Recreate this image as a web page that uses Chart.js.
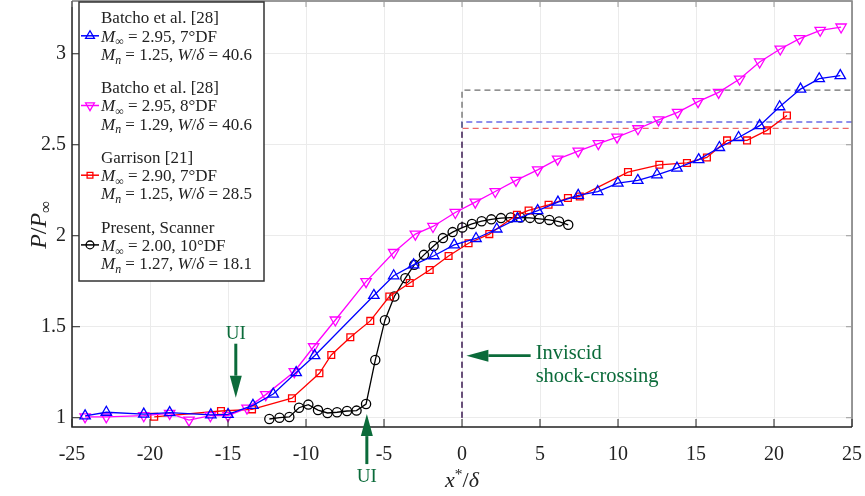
<!DOCTYPE html>
<html>
<head>
<meta charset="utf-8">
<script src="https://cdn.jsdelivr.net/npm/chart.js@4.4.1/dist/chart.umd.min.js"></script>
<style>
  html, body { margin: 0; padding: 0; background: #fff; }
  #wrap { width: 865px; height: 496px; }
</style>
</head>
<body>
<div id="wrap"><canvas id="chart" width="865" height="496"></canvas></div>
<script>
// Batcho et al. [28], M=2.95, 7 deg DF
const batcho7X = [-24.16, -22.8, -20.4, -18.74, -16.1, -15.0, -13.4, -12.1, -10.63, -9.45, -5.65, -4.38, -3.1, -1.8, -0.5, 0.9, 2.23, 3.55, 4.85, 6.15, 7.45, 8.7, 9.99, 11.27, 12.5, 13.78, 15.17, 16.5, 17.73, 19.08, 20.36, 21.7, 22.9, 24.25];
const batcho7Y = [1.01, 1.03, 1.02, 1.028, 1.016, 1.018, 1.068, 1.13, 1.248, 1.341, 1.672, 1.78, 1.84, 1.89, 1.95, 1.985, 2.037, 2.094, 2.138, 2.185, 2.222, 2.243, 2.289, 2.304, 2.335, 2.372, 2.418, 2.485, 2.54, 2.605, 2.709, 2.806, 2.863, 2.88];

// Batcho et al. [28], M=2.95, 8 deg DF
const batcho8X = [-24.16, -22.8, -20.4, -18.74, -17.5, -16.13, -15.0, -13.78, -12.58, -10.75, -9.51, -8.12, -6.15, -4.38, -2.99, -1.86, -0.43, 0.85, 2.13, 3.46, 4.85, 6.13, 7.45, 8.74, 9.94, 11.28, 12.6, 13.82, 15.13, 16.45, 17.8, 19.08, 20.4, 21.64, 22.96, 24.3];
const batcho8Y = [1.005, 1.005, 1.011, 1.024, 0.987, 1.011, 1.011, 1.053, 1.127, 1.253, 1.39, 1.537, 1.748, 1.908, 2.009, 2.051, 2.128, 2.185, 2.243, 2.304, 2.362, 2.421, 2.465, 2.506, 2.542, 2.588, 2.637, 2.678, 2.737, 2.788, 2.861, 2.955, 3.026, 3.083, 3.129, 3.147];

// Garrison [21], M=2.90, 7 deg DF
const garrisonX = [-19.73, -15.45, -13.46, -10.9, -9.14, -8.38, -7.16, -5.88, -4.66, -3.35, -2.07, -0.86, 0.42, 1.75, 3.52, 4.27, 5.55, 6.79, 7.55, 10.64, 12.65, 14.42, 15.7, 16.99, 18.27, 19.55, 20.83];
const garrisonY = [1.005, 1.037, 1.046, 1.107, 1.244, 1.345, 1.442, 1.532, 1.666, 1.74, 1.812, 1.889, 1.959, 2.009, 2.115, 2.139, 2.17, 2.207, 2.216, 2.35, 2.39, 2.4, 2.43, 2.524, 2.524, 2.579, 2.661];

// Present, Scanner, M=2.00, 10 deg DF
const scannerX = [-12.35, -11.7, -11.07, -10.45, -9.85, -9.23, -8.62, -8.01, -7.37, -6.76, -6.15, -5.56, -4.94, -4.34, -3.63, -3.06, -2.44, -1.82, -1.22, -0.6, 0.02, 0.64, 1.26, 1.88, 2.5, 3.12, 3.74, 4.36, 4.97, 5.6, 6.22, 6.81];
const scannerY = [0.993, 1.0, 1.004, 1.055, 1.072, 1.042, 1.026, 1.03, 1.037, 1.039, 1.075, 1.317, 1.536, 1.666, 1.767, 1.84, 1.895, 1.944, 1.987, 2.02, 2.045, 2.065, 2.08, 2.09, 2.097, 2.1, 2.1, 2.098, 2.093, 2.087, 2.078, 2.06];

// inviscid shock-crossing location and downstream pressure levels
const shockX = 0;
const shockEndX = 25;
const shockBaseY = 1;
const levelGray = 2.8;
const levelBlue = 2.625;
const levelRed = 2.59;

// tick labels
const xTicks = [-25, -20, -15, -10, -5, 0, 5, 10, 15, 20, 25];
const yTicks = [1, 1.5, 2, 2.5, 3];

// legend text
const sourceNames = ['Batcho et al. [28]', 'Batcho et al. [28]', 'Garrison [21]', 'Present, Scanner'];
const machInf = ['2.95', '2.95', '2.90', '2.00'];
const rampAngle = ['7', '8', '7', '10'];
const machN = ['1.25', '1.29', '1.25', '1.27'];
const widthRatio = ['40.6', '40.6', '28.5', '18.1'];

// annotation anchors (x in x*/delta)
const uiUpstreamX = -14.5;
const uiScannerX = -6.1;

const FONT = '"Liberation Serif", "DejaVu Serif", serif';
const GREEN = '#0b6b3a';

function pts(xs, ys) {
  return xs.map((x, i) => ({ x: x, y: ys[i] }));
}

function refLine(level) {
  return [{ x: shockX, y: shockBaseY }, { x: shockX, y: level }, { x: shockEndX, y: level }];
}

// Draw mixed roman / italic / sub- and superscript text
function fontFor(style, size) {
  const small = style === 'sub' || style === 'isub' || style === 'sup';
  const italic = style === 'i' || style === 'isub';
  return (italic ? 'italic ' : '') + (small ? size * 0.7 : size) + 'px ' + FONT;
}
function richWidth(ctx, parts, size) {
  let w = 0;
  parts.forEach(([t, s]) => { ctx.font = fontFor(s, size); w += ctx.measureText(t).width; });
  return w;
}
function drawRich(ctx, parts, x, y, size, align) {
  let cx = x;
  if (align === 'center') cx = x - richWidth(ctx, parts, size) / 2;
  ctx.textAlign = 'left';
  ctx.textBaseline = 'alphabetic';
  parts.forEach(([t, s]) => {
    ctx.font = fontFor(s, size);
    let dy = 0;
    if (s === 'sub' || s === 'isub') dy = size * 0.22;
    if (s === 'sup') dy = -size * 0.38;
    ctx.fillText(t, cx, y + dy);
    cx += ctx.measureText(t).width;
  });
}

function arrow(ctx, x1, y1, x2, y2, width, headLen, headHalf) {
  const ang = Math.atan2(y2 - y1, x2 - x1);
  const bx = x2 - Math.cos(ang) * headLen;
  const by = y2 - Math.sin(ang) * headLen;
  ctx.beginPath();
  ctx.lineWidth = width;
  ctx.moveTo(x1, y1);
  ctx.lineTo(bx, by);
  ctx.stroke();
  ctx.beginPath();
  ctx.moveTo(x2, y2);
  ctx.lineTo(bx + Math.sin(ang) * headHalf, by - Math.cos(ang) * headHalf);
  ctx.lineTo(bx - Math.sin(ang) * headHalf, by + Math.cos(ang) * headHalf);
  ctx.closePath();
  ctx.fill();
}

// Frame, inward ticks, axis titles, annotations and the legend box
const decorPlugin = {
  id: 'decor',
  afterDraw(chart) {
    const ctx = chart.ctx;
    const a = chart.chartArea;
    const xs = chart.scales.x;
    const ys = chart.scales.y;
    ctx.save();

    // frame
    ctx.lineWidth = 1.5;
    ctx.strokeStyle = '#777';
    ctx.beginPath();
    ctx.moveTo(a.left, a.top); ctx.lineTo(a.right, a.top); ctx.lineTo(a.right, a.bottom);
    ctx.stroke();
    ctx.strokeStyle = '#222';
    ctx.beginPath();
    ctx.moveTo(a.left, a.top); ctx.lineTo(a.left, a.bottom); ctx.lineTo(a.right, a.bottom);
    ctx.stroke();

    // inward ticks
    ctx.lineWidth = 1;
    xTicks.forEach(v => {
      const px = xs.getPixelForValue(v);
      ctx.strokeStyle = '#222';
      ctx.beginPath(); ctx.moveTo(px, a.bottom); ctx.lineTo(px, a.bottom - 8); ctx.stroke();
      ctx.strokeStyle = '#999';
      ctx.beginPath(); ctx.moveTo(px, a.top); ctx.lineTo(px, a.top + 6); ctx.stroke();
    });
    yTicks.forEach(v => {
      const py = ys.getPixelForValue(v);
      ctx.strokeStyle = '#222';
      ctx.beginPath(); ctx.moveTo(a.left, py); ctx.lineTo(a.left + 8, py); ctx.stroke();
      ctx.strokeStyle = '#999';
      ctx.beginPath(); ctx.moveTo(a.right, py); ctx.lineTo(a.right - 6, py); ctx.stroke();
    });

    // axis titles
    ctx.fillStyle = '#222';
    drawRich(ctx, [['x', 'i'], ['*', 'sup'], ['/', 'r'], ['δ', 'i']], xs.getPixelForValue(0), 487, 22, 'center');
    ctx.save();
    ctx.translate(46, ys.getPixelForValue(2.06));
    ctx.rotate(-Math.PI / 2);
    drawRich(ctx, [['P', 'i'], ['/', 'r'], ['P', 'i'], ['∞', 'sub']], 0, 0, 24, 'center');
    ctx.restore();

    // annotations
    ctx.fillStyle = GREEN;
    ctx.strokeStyle = GREEN;
    const ux = xs.getPixelForValue(uiUpstreamX);
    const uTip = ys.getPixelForValue(1.11);
    arrow(ctx, ux, uTip - 54, ux, uTip, 3, 22, 6);
    ctx.font = '19px ' + FONT;
    ctx.textAlign = 'center';
    ctx.textBaseline = 'middle';
    ctx.fillText('UI', ux, uTip - 64);

    const sx = xs.getPixelForValue(uiScannerX);
    const sTip = ys.getPixelForValue(1.02);
    arrow(ctx, sx, sTip + 50, sx, sTip, 3, 22, 6);
    ctx.fillText('UI', sx, sTip + 63);

    const iy = ys.getPixelForValue(1.341);
    arrow(ctx, xs.getPixelForValue(4.4), iy, xs.getPixelForValue(0.28), iy, 2.6, 22, 6);
    ctx.font = '20.5px ' + FONT;
    ctx.textAlign = 'left';
    ctx.fillText('Inviscid', xs.getPixelForValue(4.72), iy - 2);
    ctx.fillText('shock-crossing', xs.getPixelForValue(4.72), iy + 21);

    // legend
    const lx = a.left + 7, ly = a.top + 1, lw = 185, lh = 279;
    ctx.fillStyle = '#fff';
    ctx.fillRect(lx, ly, lw, lh);
    ctx.strokeStyle = '#333';
    ctx.lineWidth = 1.5;
    ctx.strokeRect(lx, ly, lw, lh);
    const sets = chart.data.datasets;
    for (let i = 0; i < 4; i++) {
      const ds = sets[i];
      const top = ly + 15.5 + i * 69.7;
      const mid = top + 18.3;
      ctx.strokeStyle = ds.borderColor;
      ctx.lineWidth = 1.5;
      ctx.beginPath(); ctx.moveTo(lx + 2, mid); ctx.lineTo(lx + 20, mid); ctx.stroke();
      ctx.lineWidth = 1.3;
      ctx.fillStyle = 'rgba(0,0,0,0)';
      Chart.helpers.drawPoint(ctx, {
        pointStyle: ds.pointStyle, rotation: ds.rotation || 0,
        radius: ds.pointRadius * 0.85, borderWidth: 1.3
      }, lx + 11, mid);
      ctx.fillStyle = '#222';
      const tx = lx + 22;
      const size = 17;
      drawRich(ctx, [[sourceNames[i], 'r']], tx, top + 5.9, size);
      drawRich(ctx, [['M', 'i'], ['∞', 'sub'], [' = ' + machInf[i] + ', ' + rampAngle[i] + '°DF', 'r']], tx, mid + 5.9, size);
      drawRich(ctx, [['M', 'i'], ['n', 'isub'], [' = ' + machN[i] + ', ', 'r'], ['W', 'i'], ['/', 'r'], ['δ', 'i'], [' = ' + widthRatio[i], 'r']], tx, mid + 18.3 + 5.9, size);
    }
    ctx.restore();
  }
};

const refStyle = {
  showLine: true, pointRadius: 0, borderWidth: 1.3, borderDash: [6, 4], fill: false
};

new Chart(document.getElementById('chart'), {
  type: 'scatter',
  data: {
    datasets: [
      {
        label: 'Batcho 7', data: pts(batcho7X, batcho7Y), showLine: true,
        borderColor: '#0000ff', backgroundColor: 'rgba(0,0,0,0)', borderWidth: 1.3,
        pointStyle: 'triangle', pointRadius: 6, pointBorderWidth: 1.3
      },
      {
        label: 'Batcho 8', data: pts(batcho8X, batcho8Y), showLine: true,
        borderColor: '#ff00ff', backgroundColor: 'rgba(0,0,0,0)', borderWidth: 1.3,
        pointStyle: 'triangle', rotation: 180, pointRadius: 6, pointBorderWidth: 1.3
      },
      {
        label: 'Garrison', data: pts(garrisonX, garrisonY), showLine: true,
        borderColor: '#ff0000', backgroundColor: 'rgba(0,0,0,0)', borderWidth: 1.3,
        pointStyle: 'rect', pointRadius: 4.8, pointBorderWidth: 1.3
      },
      {
        label: 'Scanner', data: pts(scannerX, scannerY), showLine: true,
        borderColor: '#000000', backgroundColor: 'rgba(0,0,0,0)', borderWidth: 1.3,
        pointStyle: 'circle', pointRadius: 4.6, pointBorderWidth: 1.3
      },
      Object.assign({ label: 'ref gray', data: refLine(levelGray), borderColor: 'rgba(60,60,60,0.75)' }, refStyle),
      Object.assign({ label: 'ref blue', data: refLine(levelBlue), borderColor: 'rgba(40,40,220,0.7)' }, refStyle),
      Object.assign({ label: 'ref red', data: refLine(levelRed), borderColor: 'rgba(230,40,40,0.7)' }, refStyle)
    ]
  },
  options: {
    responsive: false,
    animation: false,
    layout: { autoPadding: false, padding: { top: 1, right: 13, left: 0, bottom: 0 } },
    plugins: { legend: { display: false }, tooltip: { enabled: false } },
    scales: {
      x: {
        type: 'linear', min: -25, max: 25,
        afterBuildTicks: s => { s.ticks = xTicks.map(v => ({ value: v })); },
        afterFit: s => { s.height = 69; s.paddingLeft = 0; s.paddingRight = 0; },
        grid: { color: '#ebebeb', lineWidth: 1, drawTicks: false },
        border: { display: false },
        ticks: {
          font: { family: FONT, size: 20 }, color: '#222', padding: 16,
          maxRotation: 0, autoSkip: false, callback: v => String(v)
        }
      },
      y: {
        type: 'linear', min: 0.949, max: 3.29,
        afterBuildTicks: s => { s.ticks = yTicks.map(v => ({ value: v })); },
        afterFit: s => { s.width = 72; s.paddingTop = 0; s.paddingBottom = 0; },
        grid: { color: '#ebebeb', lineWidth: 1, drawTicks: false },
        border: { display: false },
        ticks: {
          font: { family: FONT, size: 20 }, color: '#222', padding: 6,
          autoSkip: false, callback: v => String(v)
        }
      }
    }
  },
  plugins: [decorPlugin]
});
</script>
</body>
</html>
